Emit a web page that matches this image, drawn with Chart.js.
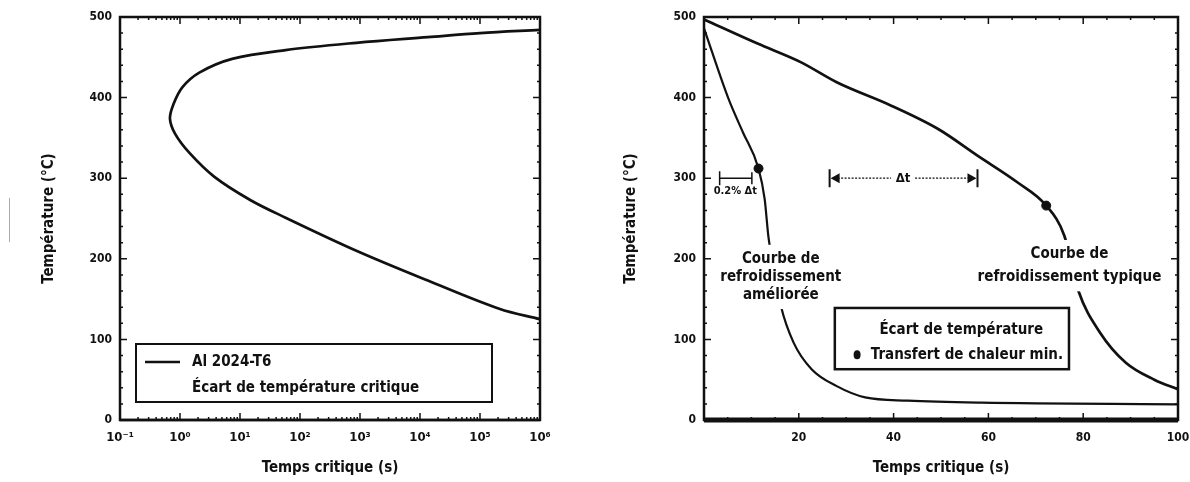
<!DOCTYPE html>
<html>
<head>
<meta charset="utf-8">
<script src="https://cdn.jsdelivr.net/npm/chart.js@4.4.1/dist/chart.umd.min.js"></script>
<style>
  body { margin: 0; background: #fff; width: 1190px; height: 482px; overflow: hidden; position: relative; }
  canvas { position: absolute; top: 0; }
  #critChart { left: 0; }
  #coolChart { left: 600px; }
  .stray { position: absolute; left: 9px; top: 198px; width: 1px; height: 44px; background: #aaa; }
</style>
</head>
<body>
<div class="stray"></div>
<canvas id="critChart" width="590" height="482"></canvas>
<canvas id="coolChart" width="590" height="482"></canvas>
<script>
// Al 2024-T6 critical range (C-curve), traced from the top branch round the nose to the bottom branch
const critTime = [1e6, 1e5, 13500, 870, 57.5, 7.4, 2.1, 1.1, 0.78, 0.68, 0.83, 1.45, 3.7, 14.8, 57.5, 870, 13500, 209000, 1e6];
const critTemp = [484, 480, 475, 468, 459, 448, 431, 413, 392, 374, 355, 331, 302, 273, 251, 210, 173, 138, 125];
const logTicks = [0.1, 1, 10, 100, 1000, 1e4, 1e5, 1e6];
const tempTicks = [0, 100, 200, 300, 400, 500];

// quench curves, time in s / temperature in °C
const typicalTime = [0, 11.3, 20.4, 28, 39.5, 49.4, 57.7, 66.1, 72.2, 76, 79, 83.6, 89, 95, 100];
const typicalTemp = [497, 467, 444, 419, 390, 361, 328, 295, 266, 229, 160, 108, 71, 50, 38];
const improvedTime = [0, 5.2, 8.2, 11.5, 12.8, 13.6, 16.2, 18.9, 22.7, 28, 34, 43, 58.5, 100];
const improvedTemp = [486, 398, 357, 312, 274, 227, 142, 96, 63, 42, 28, 24, 21.5, 19.5];
// minimum heat transfer points (on each curve)
const minHeatTime = [11.5, 72.2];
const minHeatTemp = [312, 266];
const timeTicks = [0, 20, 40, 60, 80, 100];

const FONT = "'Liberation Sans Narrow', 'DejaVu Sans Condensed', Arial, sans-serif";
Chart.defaults.font.family = FONT;
Chart.defaults.font.weight = 'bold';
Chart.defaults.color = '#111';

const sup = { '-': '⁻', '0': '⁰', '1': '¹', '2': '²', '3': '³', '4': '⁴', '5': '⁵', '6': '⁶' };
const powLabel = (v) => '10' + String(Math.round(Math.log10(v))).split('').map(c => sup[c]).join('');

// frame + inward ticks on all four sides
const frameTicks = {
  id: 'frameTicks',
  afterDraw(chart, args, opts) {
    const { ctx, chartArea: a, scales: { x, y } } = chart;
    ctx.save();
    ctx.strokeStyle = '#111';
    ctx.lineWidth = 1.5;
    const tick = (vals, len) => {
      ctx.beginPath();
      vals.forEach(v => {
        const px = x.getPixelForValue(v);
        ctx.moveTo(px, a.bottom); ctx.lineTo(px, a.bottom - len);
        ctx.moveTo(px, a.top); ctx.lineTo(px, a.top + len);
      });
      ctx.stroke();
    };
    const tickY = (vals, len) => {
      ctx.beginPath();
      vals.forEach(v => {
        const py = y.getPixelForValue(v);
        ctx.moveTo(a.left, py); ctx.lineTo(a.left + len, py);
        ctx.moveTo(a.right, py); ctx.lineTo(a.right - len, py);
      });
      ctx.stroke();
    };
    tick(opts.xMajor, 7); tick(opts.xMinor, 3);
    tickY(opts.yMajor, 7); tickY(opts.yMinor, 3);
    ctx.lineWidth = 2.5;
    ctx.strokeRect(a.left, a.top, a.right - a.left, a.bottom - a.top);
    ctx.lineWidth = opts.baseWidth || 2.5;
    ctx.beginPath();
    ctx.moveTo(a.left, a.bottom); ctx.lineTo(a.right, a.bottom);
    ctx.stroke();
    ctx.restore();
  }
};

const axisTitle = (text) => ({ display: true, text: text, font: { size: 15, weight: 'bold' }, color: '#111' });

// ---------- left: critical temperature range ----------
const logMinor = [];
for (let d = -1; d < 6; d++) for (let k = 2; k <= 9; k++) logMinor.push(k * Math.pow(10, d));
const tempMinor = [];
for (let t = 20; t < 500; t += 20) if (t % 100) tempMinor.push(t);

const critLegend = {
  id: 'critLegend',
  afterDraw(chart) {
    const { ctx, chartArea: a } = chart;
    const L = a.left + 16, T = a.bottom - 76, W = 356, H = 58;
    ctx.save();
    ctx.fillStyle = '#fff';
    ctx.fillRect(L, T, W, H);
    ctx.strokeStyle = '#111';
    ctx.lineWidth = 2;
    ctx.strokeRect(L, T, W, H);
    ctx.lineWidth = 2.5;
    ctx.beginPath();
    ctx.moveTo(L + 9, T + 18); ctx.lineTo(L + 44, T + 18);
    ctx.stroke();
    ctx.fillStyle = '#111';
    ctx.font = 'bold 15px ' + FONT;
    ctx.textBaseline = 'middle';
    ctx.fillText('Al 2024-T6', L + 56, T + 18);
    ctx.fillText('Écart de température critique', L + 56, T + 44);
    ctx.restore();
  }
};

new Chart(document.getElementById('critChart'), {
  type: 'line',
  data: {
    datasets: [{
      data: critTime.map((t, i) => ({ x: t, y: critTemp[i] })),
      borderColor: '#111',
      borderWidth: 2.7,
      pointRadius: 0,
      tension: 0.35,
      fill: false
    }]
  },
  options: {
    responsive: false,
    animation: false,
    devicePixelRatio: 1,
    layout: { padding: { left: 36, right: 50, top: 17, bottom: 1 } },
    plugins: {
      legend: { display: false },
      tooltip: { enabled: false },
      frameTicks: { xMajor: logTicks, xMinor: logMinor, yMajor: tempTicks, yMinor: tempMinor }
    },
    scales: {
      x: {
        type: 'logarithmic',
        min: 0.1,
        max: 1e6,
        afterBuildTicks: (scale) => { scale.ticks = logTicks.map(v => ({ value: v })); },
        afterFit: (scale) => { scale.height = 61; },
        ticks: { callback: (v) => powLabel(v), font: { size: 13 }, padding: 10, maxRotation: 0, autoSkip: false },
        grid: { display: false, drawTicks: false },
        border: { display: false },
        title: axisTitle('Temps critique (s)')
      },
      y: {
        min: 0,
        max: 500,
        afterBuildTicks: (scale) => { scale.ticks = tempTicks.map(v => ({ value: v })); },
        afterFit: (scale) => { scale.width = 84; },
        ticks: { font: { size: 12 }, padding: 8 },
        grid: { display: false, drawTicks: false },
        border: { display: false },
        title: axisTitle('Température (°C)')
      }
    }
  },
  plugins: [frameTicks, critLegend]
});

// ---------- right: quench curves ----------
const timeMinor = [];
for (let t = 5; t < 100; t += 5) if (t % 20) timeMinor.push(t);

const coolNotes = {
  id: 'coolNotes',
  afterDatasetsDraw(chart) {
    const { ctx, scales: { x, y } } = chart;
    const px = (v) => x.getPixelForValue(v);
    const py = (v) => y.getPixelForValue(v);
    ctx.save();
    ctx.fillStyle = '#111';
    ctx.strokeStyle = '#111';
    ctx.textAlign = 'center';
    ctx.textBaseline = 'middle';

    // curve labels, knocked out of the lines behind them
    const label = (lines, cx, ys) => {
      ctx.font = 'bold 15px ' + FONT;
      lines.forEach((s, i) => {
        const w = ctx.measureText(s).width;
        ctx.fillStyle = '#fff';
        ctx.fillRect(px(cx) - w / 2 - 3, py(ys[i]) - 14, w + 6, 28);
      });
      ctx.fillStyle = '#111';
      lines.forEach((s, i) => ctx.fillText(s, px(cx), py(ys[i])));
    };
    label(['Courbe de', 'refroidissement', 'améliorée'], 16.2, [200, 177.5, 155]);
    label(['Courbe de', 'refroidissement typique'], 77.1, [206, 177]);

    // 0.2% Δt bracket
    const yb = py(300);
    ctx.lineWidth = 1.5;
    ctx.beginPath();
    ctx.moveTo(px(3.3), yb); ctx.lineTo(px(10.1), yb);
    ctx.moveTo(px(3.3), yb - 7); ctx.lineTo(px(3.3), yb + 7);
    ctx.moveTo(px(10.1), yb - 6); ctx.lineTo(px(10.1), yb + 6);
    ctx.stroke();
    ctx.font = 'bold 11px ' + FONT;
    ctx.fillText('0.2% Δt', px(6.6), py(284));

    // Δt arrow
    const x0 = px(26.5), x1 = px(57.7), xm = px(42);
    ctx.lineWidth = 2;
    ctx.beginPath();
    ctx.moveTo(x0, yb - 9); ctx.lineTo(x0, yb + 9);
    ctx.moveTo(x1, yb - 9); ctx.lineTo(x1, yb + 9);
    ctx.stroke();
    ctx.lineWidth = 1.2;
    ctx.setLineDash([2, 1.5]);
    ctx.beginPath();
    ctx.moveTo(x0 + 8, yb); ctx.lineTo(xm - 12, yb);
    ctx.moveTo(xm + 12, yb); ctx.lineTo(x1 - 8, yb);
    ctx.stroke();
    ctx.setLineDash([]);
    ctx.beginPath();
    ctx.moveTo(x0 + 1, yb); ctx.lineTo(x0 + 10, yb - 5); ctx.lineTo(x0 + 10, yb + 5); ctx.closePath();
    ctx.moveTo(x1 - 1, yb); ctx.lineTo(x1 - 10, yb - 5); ctx.lineTo(x1 - 10, yb + 5); ctx.closePath();
    ctx.fill();
    ctx.font = 'bold 13px ' + FONT;
    ctx.fillText('Δt', xm, yb);

    // legend box
    const L = px(27.6), R = px(77), T = py(139), B = py(63);
    ctx.fillStyle = '#fff';
    ctx.fillRect(L, T, R - L, B - T);
    ctx.lineWidth = 2.5;
    ctx.strokeRect(L, T, R - L, B - T);
    ctx.fillStyle = '#111';
    ctx.textAlign = 'left';
    ctx.font = 'bold 15px ' + FONT;
    ctx.fillText('Écart de température', px(37), py(112));
    ctx.fillText('Transfert de chaleur min.', px(35.2), py(80));
    ctx.beginPath();
    ctx.ellipse(px(32.3), py(81), 3.5, 4.5, 0, 0, Math.PI * 2);
    ctx.fill();
    ctx.restore();
  }
};

new Chart(document.getElementById('coolChart'), {
  type: 'line',
  data: {
    datasets: [{
      label: 'Courbe de refroidissement typique',
      data: typicalTime.map((t, i) => ({ x: t, y: typicalTemp[i] })),
      borderColor: '#111',
      borderWidth: 2.7,
      pointRadius: 0,
      cubicInterpolationMode: 'monotone'
    }, {
      label: 'Courbe de refroidissement améliorée',
      data: improvedTime.map((t, i) => ({ x: t, y: improvedTemp[i] })),
      borderColor: '#111',
      borderWidth: 2.2,
      pointRadius: 0,
      cubicInterpolationMode: 'monotone'
    }, {
      label: 'Transfert de chaleur min.',
      data: minHeatTime.map((t, i) => ({ x: t, y: minHeatTemp[i] })),
      showLine: false,
      pointRadius: 4.5,
      pointBackgroundColor: '#111',
      pointBorderColor: '#111'
    }]
  },
  options: {
    responsive: false,
    animation: false,
    devicePixelRatio: 1,
    layout: { padding: { left: 18, right: 12, top: 17, bottom: 1 } },
    plugins: {
      legend: { display: false },
      tooltip: { enabled: false },
      frameTicks: { xMajor: timeTicks, xMinor: timeMinor, yMajor: tempTicks, yMinor: tempMinor, baseWidth: 5 }
    },
    scales: {
      x: {
        type: 'linear',
        min: 0,
        max: 100,
        afterBuildTicks: (scale) => { scale.ticks = timeTicks.map(v => ({ value: v })); },
        afterFit: (scale) => { scale.height = 61; scale.paddingRight = 0; },
        ticks: { callback: (v) => (v === 0 ? '' : v), font: { size: 12 }, padding: 11, maxRotation: 0, autoSkip: false },
        grid: { display: false, drawTicks: false },
        border: { display: false },
        title: axisTitle('Temps critique (s)')
      },
      y: {
        min: 0,
        max: 500,
        afterBuildTicks: (scale) => { scale.ticks = tempTicks.map(v => ({ value: v })); },
        afterFit: (scale) => { scale.width = 86; },
        ticks: { font: { size: 12 }, padding: 8 },
        grid: { display: false, drawTicks: false },
        border: { display: false },
        title: axisTitle('Température (°C)')
      }
    }
  },
  plugins: [frameTicks, coolNotes]
});
</script>
</body>
</html>
